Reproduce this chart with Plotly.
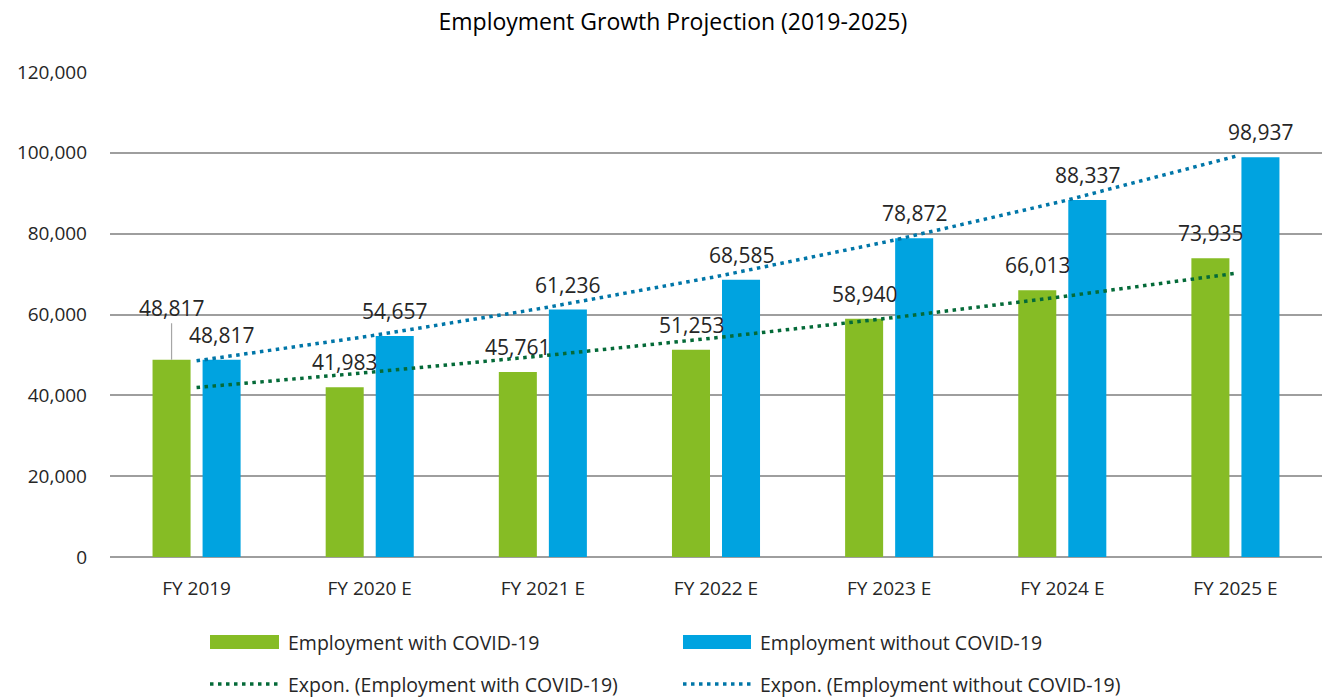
import numpy as np
import plotly.graph_objects as go

# Fiscal years and employment series
years = ["FY 2019", "FY 2020 E", "FY 2021 E", "FY 2022 E", "FY 2023 E", "FY 2024 E", "FY 2025 E"]
with_covid = [48817, 41983, 45761, 51253, 58940, 66013, 73935]
without_covid = [48817, 54657, 61236, 68585, 78872, 88337, 98937]
y_ticks = [0, 20000, 40000, 60000, 80000, 100000, 120000]

GREEN = "#86BC25"
BLUE = "#00A3E0"
DARK_GREEN = "#046A38"
DARK_BLUE = "#0076A8"
TEXT = "#262626"
FONT = "Open Sans"

# Plot area geometry (pixels)
W, H = 1322, 697
L, R, T, B = 110, 0, 72, 140
PW, PH = W - L - R, H - T - B


def exp_trend(values):
    """Least-squares exponential fit y = a*exp(b*x) over x = 1..n."""
    x = np.arange(1, len(values) + 1)
    b, ln_a = np.polyfit(x, np.log(values), 1)
    return list(np.exp(ln_a) * np.exp(b * x))


fig = go.Figure()
fig.add_trace(go.Bar(x=years, y=with_covid, name="Employment with COVID-19",
                     marker=dict(color=GREEN, line=dict(width=0))))
fig.add_trace(go.Bar(x=years, y=without_covid, name="Employment without COVID-19",
                     marker=dict(color=BLUE, line=dict(width=0))))
fig.add_trace(go.Scatter(x=years, y=exp_trend(with_covid), mode="lines",
                         name="Expon. (Employment with COVID-19)",
                         line=dict(color=DARK_GREEN, width=3.5, dash="3.5px,4.5px")))
fig.add_trace(go.Scatter(x=years, y=exp_trend(without_covid), mode="lines",
                         name="Expon. (Employment without COVID-19)",
                         line=dict(color=DARK_BLUE, width=3.5, dash="3.5px,4.5px")))

# Value labels above the bars
annotations = []
for i, yr in enumerate(years):
    for vals, shift in ((with_covid, -25), (without_covid, 25)):
        label = f"{vals[i]:,}"
        if i == 0 and shift < 0:
            # first label lifted higher, joined to its bar by a leader line
            annotations.append(dict(x=yr, y=vals[i], xref="x", yref="y", text=label,
                                    showarrow=True, arrowhead=0, arrowwidth=1.2,
                                    arrowcolor="#a6a6a6", ax=0, ay=-52, xshift=shift,
                                    font=dict(family=FONT, size=21, color=TEXT)))
        else:
            annotations.append(dict(x=yr, y=vals[i], xref="x", yref="y", text=label,
                                    showarrow=False, xshift=shift, yshift=25,
                                    yanchor="middle",
                                    font=dict(family=FONT, size=21, color=TEXT)))


def px_x(px):
    return (px - L) / PW


def px_y(py):
    return (H - B - py) / PH


# Legend drawn as swatches plus text in a 2x2 grid
legend_items = [
    ("rect", GREEN, "Employment with COVID-19", 210, 279, 642),
    ("rect", BLUE, "Employment without COVID-19", 683, 751, 642),
    ("dot", DARK_GREEN, "Expon. (Employment with COVID-19)", 210, 279, 684),
    ("dot", DARK_BLUE, "Expon. (Employment without COVID-19)", 683, 751, 684),
]
shapes = []
for kind, color, text, x0, x1, yc in legend_items:
    if kind == "rect":
        shapes.append(dict(type="rect", xref="paper", yref="paper",
                           x0=px_x(x0), x1=px_x(x1), y0=px_y(yc + 7), y1=px_y(yc - 7),
                           fillcolor=color, line=dict(width=0)))
    else:
        shapes.append(dict(type="line", xref="paper", yref="paper",
                           x0=px_x(x0), x1=px_x(x1), y0=px_y(yc), y1=px_y(yc),
                           line=dict(color=color, width=3.5, dash="3.5px,4.5px")))
    annotations.append(dict(x=px_x(x1 + 7), y=px_y(yc), xref="paper", yref="paper",
                            text=text, showarrow=False, xanchor="left", yanchor="middle",
                            font=dict(family=FONT, size=19.5, color=TEXT)))

fig.update_layout(
    width=W, height=H,
    margin=dict(l=L, r=R, t=T, b=B, pad=0),
    paper_bgcolor="white", plot_bgcolor="white",
    title=dict(text="Employment Growth Projection (2019-2025)", x=0.509, xanchor="center",
               y=1 - 22 / H, yanchor="middle",
               font=dict(family=FONT, size=23, color="black")),
    barmode="group", bargap=0.422, bargroupgap=0.24,
    showlegend=False,
    xaxis=dict(type="category", showgrid=False, showline=False, zeroline=False,
               ticks="", ticklabelstandoff=18,
               tickfont=dict(family=FONT, size=19, color=TEXT)),
    yaxis=dict(range=[0, 120000], tickvals=y_ticks, tickformat=",d",
               showgrid=True, gridcolor="#9e9e9e", gridwidth=2,
               zeroline=True, zerolinecolor="#9e9e9e", zerolinewidth=2,
               showline=False, ticks="", ticklabelstandoff=22,
               tickfont=dict(family=FONT, size=19, color=TEXT)),
    annotations=annotations,
    shapes=shapes,
)

fig.write_html("out.html")
